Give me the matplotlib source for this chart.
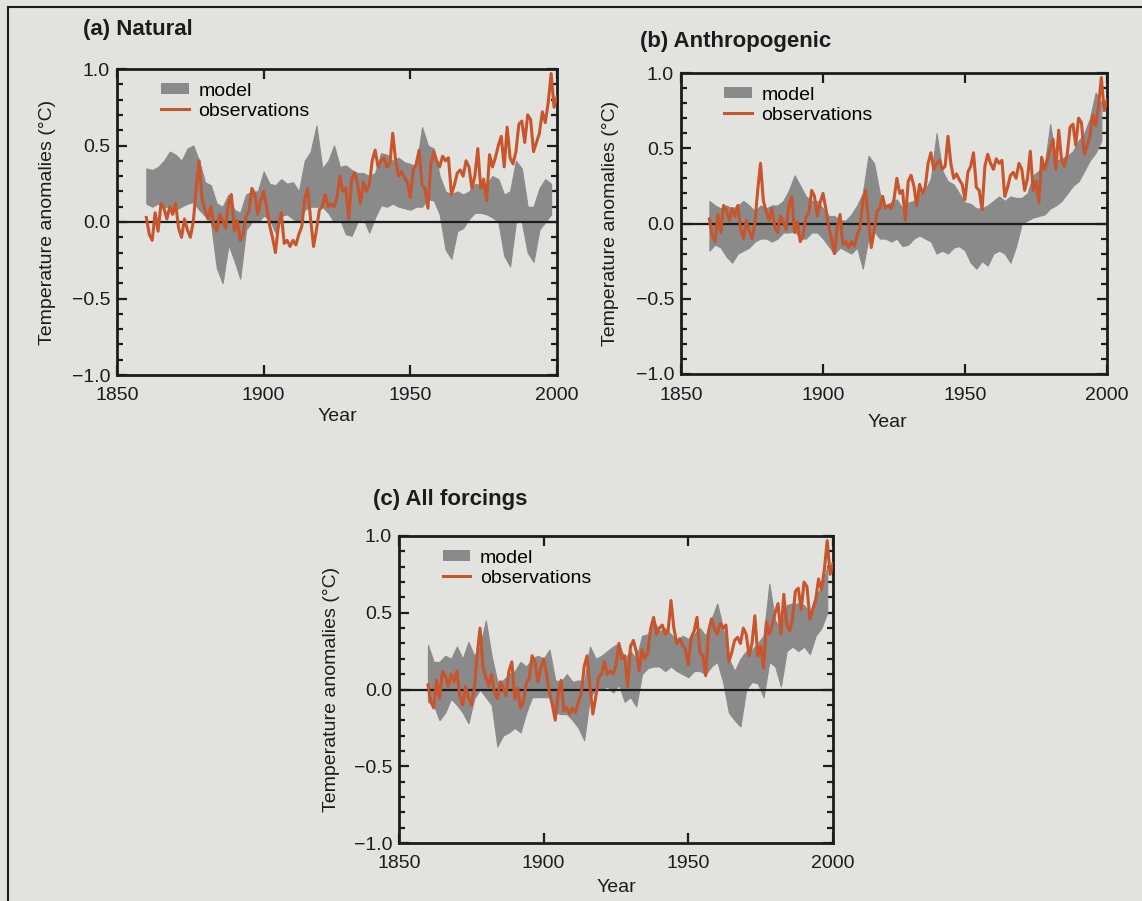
import matplotlib
matplotlib.use("Agg")
import matplotlib.pyplot as plt
import matplotlib.patches as mpatches
from matplotlib.lines import Line2D
from matplotlib.ticker import MultipleLocator

plt.rcParams['font.family'] = ['Liberation Sans', 'DejaVu Sans']

# ── Data ───────────────────────────────────────────────────
OBS_YEARS = list(range(1860, 2001))
OBS = [
    0.03, -0.08, -0.12, 0.06, -0.06, 0.12, 0.09, 0.02, 0.10, 0.05,    # 1860s
    0.12, -0.04, -0.10, 0.02, -0.05, -0.10, 0.00, 0.22, 0.40, 0.15,   # 1870s
    0.08, 0.02, 0.10, -0.02, -0.06, 0.05, 0.01, -0.04, 0.12, 0.18,    # 1880s
    -0.06, 0.01, -0.12, -0.08, 0.04, 0.07, 0.22, 0.18, 0.05, 0.14,    # 1890s
    0.20, 0.10, -0.02, -0.10, -0.20, -0.03, 0.06, -0.14, -0.12, -0.16,  # 1900s
    -0.12, -0.15, -0.08, -0.03, 0.15, 0.22, 0.02, -0.16, -0.05, 0.08,   # 1910s
    0.10, 0.18, 0.10, 0.12, 0.10, 0.16, 0.30, 0.20, 0.22, 0.02,       # 1920s
    0.28, 0.32, 0.25, 0.12, 0.26, 0.20, 0.24, 0.40, 0.47, 0.36,       # 1930s
    0.40, 0.42, 0.36, 0.38, 0.58, 0.40, 0.30, 0.33, 0.29, 0.26,       # 1940s
    0.16, 0.34, 0.38, 0.47, 0.24, 0.22, 0.09, 0.38, 0.46, 0.40,       # 1950s
    0.36, 0.43, 0.40, 0.42, 0.18, 0.24, 0.32, 0.34, 0.30, 0.40,       # 1960s
    0.36, 0.22, 0.30, 0.48, 0.22, 0.28, 0.14, 0.44, 0.36, 0.42,       # 1970s
    0.50, 0.56, 0.36, 0.62, 0.42, 0.38, 0.46, 0.64, 0.66, 0.52,       # 1980s
    0.70, 0.67, 0.46, 0.52, 0.58, 0.72, 0.65, 0.78, 0.97, 0.75,       # 1990s
    0.82,
]

BAND_YEARS = list(range(1860, 2000, 2))

# (a) Natural forcing ensemble range
NAT_HI = [0.35, 0.34, 0.36, 0.40, 0.46, 0.44, 0.40, 0.48, 0.50, 0.40,
          0.26, 0.24, 0.12, 0.10, 0.18, 0.08, 0.06, 0.18, 0.20, 0.20,
          0.33, 0.25, 0.24, 0.28, 0.25, 0.26, 0.20, 0.40, 0.46, 0.63,
          0.35, 0.40, 0.50, 0.36, 0.37, 0.34, 0.32, 0.32, 0.30, 0.32,
          0.45, 0.44, 0.40, 0.42, 0.39, 0.38, 0.36, 0.62, 0.50, 0.48,
          0.30, 0.20, 0.18, 0.20, 0.18, 0.20, 0.25, 0.24, 0.25, 0.30,
          0.28, 0.18, 0.20, 0.40, 0.35, 0.10, 0.10, 0.22, 0.28, 0.25]
NAT_LO = [0.12, 0.10, 0.12, 0.10, 0.10, 0.08, 0.10, 0.12, 0.13, 0.08,
          0.04, 0.00, -0.30, -0.40, -0.15, -0.25, -0.37, -0.05, 0.00, 0.00,
          0.04, 0.02, -0.07, 0.04, 0.05, 0.02, 0.00, 0.08, 0.10, 0.10,
          0.10, 0.06, 0.00, 0.02, -0.08, -0.09, 0.00, 0.02, -0.07, 0.03,
          0.11, 0.10, 0.12, 0.10, 0.09, 0.08, 0.10, 0.10, 0.15, 0.14,
          0.05, -0.18, -0.24, -0.06, -0.04, 0.02, 0.06, 0.06, 0.05, 0.03,
          0.00, -0.22, -0.29, 0.00, 0.00, -0.20, -0.26, -0.05, 0.00, 0.05]

# (b) Anthropogenic forcing ensemble range
ANT_HI = [0.15, 0.12, 0.10, 0.12, 0.10, 0.12, 0.15, 0.12, 0.08, 0.12,
          0.10, 0.12, 0.12, 0.15, 0.22, 0.32, 0.25, 0.18, 0.15, 0.15,
          0.10, 0.05, 0.05, 0.02, 0.02, 0.06, 0.12, 0.20, 0.45, 0.40,
          0.20, 0.12, 0.14, 0.16, 0.10, 0.14, 0.15, 0.20, 0.22, 0.30,
          0.60, 0.35, 0.28, 0.26, 0.20, 0.14, 0.13, 0.10, 0.10, 0.12,
          0.15, 0.18, 0.15, 0.18, 0.17, 0.17, 0.20, 0.32, 0.35, 0.38,
          0.66, 0.42, 0.43, 0.45, 0.48, 0.55, 0.60, 0.70, 0.87, 0.80]
ANT_LO = [-0.18, -0.14, -0.16, -0.22, -0.26, -0.20, -0.18, -0.16, -0.12, -0.10,
          -0.10, -0.12, -0.10, -0.06, -0.06, -0.05, -0.10, -0.10, -0.06, -0.06,
          -0.10, -0.15, -0.20, -0.16, -0.18, -0.20, -0.16, -0.30, -0.10, -0.05,
          -0.10, -0.10, -0.12, -0.10, -0.15, -0.14, -0.10, -0.08, -0.10, -0.12,
          -0.20, -0.18, -0.20, -0.16, -0.15, -0.18, -0.26, -0.30, -0.25, -0.28,
          -0.20, -0.18, -0.20, -0.26, -0.15, 0.00, 0.02, 0.04, 0.05, 0.06,
          0.10, 0.12, 0.15, 0.20, 0.25, 0.28, 0.35, 0.42, 0.47, 0.55]

# (c) All forcings ensemble range
ALL_HI = [0.29, 0.18, 0.18, 0.22, 0.20, 0.28, 0.20, 0.31, 0.22, 0.28,
          0.45, 0.22, 0.05, 0.06, 0.10, 0.12, 0.18, 0.15, 0.20, 0.22,
          0.20, 0.26, 0.06, 0.05, 0.10, 0.05, 0.06, 0.05, 0.28, 0.20,
          0.22, 0.25, 0.28, 0.30, 0.20, 0.25, 0.20, 0.35, 0.36, 0.45,
          0.38, 0.40, 0.36, 0.32, 0.35, 0.33, 0.36, 0.40, 0.35, 0.46,
          0.56, 0.40, 0.20, 0.12, 0.20, 0.25, 0.26, 0.30, 0.35, 0.69,
          0.45, 0.40, 0.55, 0.56, 0.56, 0.55, 0.50, 0.62, 0.66, 0.80]
ALL_LO = [-0.08, -0.10, -0.20, -0.15, -0.06, -0.10, -0.15, -0.22, -0.06, 0.00,
          -0.05, -0.10, -0.37, -0.30, -0.28, -0.25, -0.28, -0.15, -0.05, -0.05,
          -0.05, -0.05, -0.15, -0.16, -0.16, -0.20, -0.25, -0.33, -0.05, 0.00,
          0.00, 0.02, -0.02, 0.03, -0.08, -0.05, -0.11, 0.10, 0.14, 0.15,
          0.15, 0.12, 0.15, 0.12, 0.10, 0.08, 0.12, 0.12, 0.10, 0.15,
          0.18, 0.05, -0.15, -0.20, -0.24, 0.00, 0.05, 0.04, -0.05, 0.18,
          0.15, 0.02, 0.25, 0.28, 0.25, 0.28, 0.23, 0.35, 0.40, 0.50]

PANELS = [
    ("(a) Natural", NAT_LO, NAT_HI),
    ("(b) Anthropogenic", ANT_LO, ANT_HI),
    ("(c) All forcings", ALL_LO, ALL_HI),
]

# ── Style ──────────────────────────────────────────────────
BG = '#e2e3df'
BAND_COLOR = '#8a8a8a'
OBS_COLOR = '#c8552b'
INK = '#1c1c1c'

W, H = 1142, 901
fig = plt.figure(figsize=(W / 100, H / 100), dpi=100, facecolor=BG)


def px_axes(left, top, right, bottom):
    return fig.add_axes([left / W, 1 - bottom / H, (right - left) / W, (bottom - top) / H])


# axes boxes in pixels: left, top, right, bottom
boxes = [(117, 69, 557, 375), (681, 73, 1107, 374), (399, 536, 833, 843)]
title_pos = [(83, 30), (640, 42), (373, 500)]
ylabel_x = [-0.139, -0.146, -0.136]
xlabel_pos = [(0.50, -0.108), (0.484, -0.133), (0.502, -0.117)]

for (title, lo, hi), box, tpos, ylx, xlp in zip(PANELS, boxes, title_pos, ylabel_x, xlabel_pos):
    ax = px_axes(*box)
    ax.set_facecolor(BG)
    ax.fill_between(BAND_YEARS, lo, hi, color=BAND_COLOR, lw=0.8,
                    edgecolor=BAND_COLOR, zorder=2)
    ax.axhline(0, color=INK, lw=1.6, zorder=3)
    ax.plot(OBS_YEARS, OBS, color=OBS_COLOR, lw=2.2, zorder=4)

    ax.set_xlim(1850, 2000)
    ax.set_ylim(-1.0, 1.0)
    ax.set_xticks([1850, 1900, 1950, 2000])
    ax.set_yticks([-1.0, -0.5, 0.0, 0.5, 1.0])
    ax.set_yticklabels(['\u22121.0', '\u22120.5', '0.0', '0.5', '1.0'])
    ax.yaxis.set_minor_locator(MultipleLocator(0.1))
    ax.tick_params(which='both', direction='in', top=True, right=True,
                   labelsize=14, colors=INK, width=1.6)
    ax.tick_params(which='major', length=7)
    ax.tick_params(axis='x', which='major', pad=9)
    ax.tick_params(axis='y', which='major', pad=5)
    ax.tick_params(which='minor', length=4)
    for s in ax.spines.values():
        s.set_linewidth(2.0)
        s.set_color(INK)

    ax.set_ylabel('Temperature anomalies (\u00b0C)', fontsize=14, color=INK)
    ax.yaxis.set_label_coords(ylx, 0.5)
    ax.set_xlabel('Year', fontsize=14, color=INK)
    ax.xaxis.set_label_coords(*xlp)

    fig.text(tpos[0] / W, 1 - tpos[1] / H, title, fontsize=16, fontweight='bold',
             color=INK, ha='left', va='center')

    handles = [
        mpatches.Patch(facecolor=BAND_COLOR, edgecolor='none', label='model'),
        Line2D([0], [0], color=OBS_COLOR, lw=2.2, label='observations'),
    ]
    ax.legend(handles=handles, loc='upper left', bbox_to_anchor=(0.07, 1.0),
              frameon=False, fontsize=14, handlelength=1.4, handleheight=0.5,
              handletextpad=0.5, labelspacing=0.15, borderaxespad=0.3)

# outer frame (left and top edges of the scanned box)
fig.add_artist(Line2D([8 / W, 8 / W], [0, 1 - 7 / H], color=INK, lw=1.5,
                      transform=fig.transFigure))
fig.add_artist(Line2D([8 / W, 1], [1 - 7 / H, 1 - 7 / H], color=INK, lw=1.5,
                      transform=fig.transFigure))

fig.savefig('out.png', dpi=100, facecolor=BG)
